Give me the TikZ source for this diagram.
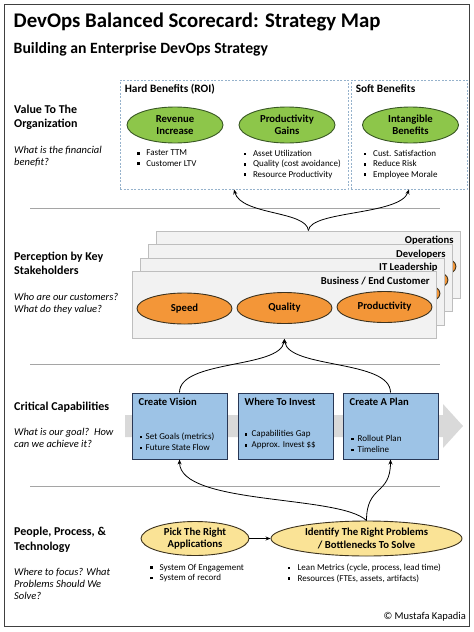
\documentclass[tikz,border=0pt]{standalone}
\usepackage{fontspec}
\setmainfont{Carlito}
\usepackage{tikz}
\usetikzlibrary{shapes.geometric,arrows.meta,positioning}

\definecolor{benefitgreen}{RGB}{141,198,74}
\definecolor{greenline}{RGB}{56,87,35}
\definecolor{valueorange}{RGB}{243,150,56}
\definecolor{capblue}{RGB}{157,195,230}
\definecolor{capline}{RGB}{40,55,85}
\definecolor{tasksand}{RGB}{250,227,150}
\definecolor{ovalline}{RGB}{60,50,30}
\definecolor{cardgray}{RGB}{242,242,242}
\definecolor{cardline}{RGB}{190,190,190}
\definecolor{dashline}{RGB}{150,178,204}
\definecolor{flowgray}{RGB}{217,217,217}
\definecolor{rulegray}{RGB}{165,165,165}
\definecolor{framegray}{RGB}{64,64,64}

\newcommand{\fs}[2]{\fontsize{#1}{#2}\selectfont}
\newcommand{\itm}[1][9.5pt]{\makebox[#1][l]{\rule[1.3pt]{2.6pt}{2.6pt}}}

\begin{document}
\begin{tikzpicture}[x=1pt,y=-1pt,
  every node/.style={inner sep=0pt},
  heading/.style={anchor=north west,align=left,font=\bfseries\fs{12}{14.2}},
  question/.style={anchor=north west,align=left,font=\itshape\fs{10.5}{12}},
  bullets/.style={anchor=north west,align=left,font=\fs{9}{10.4}},
  oval/.style={ellipse,line width=0.9pt,align=center,font=\bfseries\fs{10.7}{12.4}},
  benefit/.style={oval,draw=greenline,fill=benefitgreen,minimum width=96pt,minimum height=36pt},
  value/.style={oval,draw=ovalline,fill=valueorange,minimum width=95pt,minimum height=31pt},
  task/.style={oval,draw=ovalline,fill=tasksand,minimum height=34pt},
  group/.style={draw=dashline,line width=0.8pt,dash pattern=on 2pt off 1.5pt},
  card/.style={draw=cardline,fill=cardgray,line width=0.8pt,anchor=north west,minimum width=304pt,minimum height=67pt},
  cardlabel/.style={anchor=base east,font=\bfseries\fs{10.6}{12}},
  capbox/.style={draw=capline,fill=capblue,line width=1pt,minimum width=95pt,minimum height=66pt},
  boxtitle/.style={anchor=base west,font=\bfseries\fs{10.6}{12}},
  boxlist/.style={anchor=north west,align=left,font=\fs{9}{11}},
  link/.style={-{Stealth[length=5pt,width=4pt]},line width=0.8pt},
  sep/.style={draw=rulegray,line width=0.8pt}]
  \useasboundingbox (0,0) rectangle (474,632);
  \draw[framegray,line width=1.3pt] (4.5,4.5) rectangle (469.5,626.5);

  \node[anchor=base west,font=\bfseries\fs{20.8}{24}] (title) at (13.5,27.3) {DevOps Balanced Scorecard: Strategy Map};
  \node[anchor=base west,font=\bfseries\fs{15.7}{18}] (subtitle) at (13.5,53.3) {Building an Enterprise DevOps Strategy};

  % row labels
  \node[heading] (value) at (14,104.7) {Value To The\\Organization};
  \node[question] (value-q) at (14,145.7) {What is the financial\\benefit?};
  \node[heading] (percep) at (14,251.4) {Perception by Key\\Stakeholders};
  \node[question] (percep-q) at (14,293.4) {Who are our customers?\\What do they value?};
  \node[heading,anchor=base west] (capab) at (14,410) {Critical Capabilities};
  \node[question] (capab-q) at (14,428.4) {What is our goal?\ \ How\\can we achieve it?};
  \node[heading] (people) at (14,527.3) {People, Process, \&\\Technology};
  \node[question] (people-q) at (14,568.5) {Where to focus? What\\Problems Should We\\Solve?};

  \draw[sep] (30,208) -- (440,208);
  \draw[sep] (30,364) -- (440,364);
  \draw[sep] (30,486) -- (440,486);

  % value to the organization
  \node[group,minimum width=228pt,minimum height=109pt] (hard) at (234,134.5) {};
  \node[group,minimum width=116pt,minimum height=109pt] (soft) at (409,134.5) {};
  \node[anchor=base west,font=\bfseries\fs{11.3}{12}] (hard-l) at ([shift={(5pt,-12.7pt)}]hard.north west) {Hard Benefits (ROI)};
  \node[anchor=base west,font=\bfseries\fs{11.3}{12}] (soft-l) at ([shift={(5pt,-12.7pt)}]soft.north west) {Soft Benefits};
  \node[benefit] (revenue) at (175,125) {Revenue\\Increase};
  \node[benefit] (gains) at (287,125) {Productivity\\Gains};
  \node[benefit] (intang) at (410.5,125) {Intangible\\Benefits};
  \node[bullets] (revenue-b) at (136.7,150) {\itm Faster TTM\\\itm Customer LTV};
  \node[bullets] (gains-b) at (243.3,150) {\itm Asset Utilization\\\itm Quality (cost avoidance)\\\itm Resource Productivity};
  \node[bullets] (intang-b) at (363.5,150) {\itm Cust. Satisfaction\\\itm Reduce Risk\\\itm Employee Morale};

  % stakeholders, back to front
  \foreach \i/\nm/\lab in {3/ops/Operations,2/dev/Developers,1/itl/IT Leadership,0/biz/{Business / End Customer}}{
    \node[card] (\nm) at (132+8*\i,271-13.5*\i) {};
    \node[cardlabel] (\nm-l) at ([shift={(-7pt,-13pt)}]\nm.north east) {\lab};
    \node[value] (\nm-s) at ([shift={(52.5pt,-37.5pt)}]\nm.north west) {\ifnum\i=0 Speed\fi};
    \node[value] (\nm-q) at ([shift={(152.5pt,-37pt)}]\nm.north west) {\ifnum\i=0 Quality\fi};
    \node[value] (\nm-p) at ([shift={(252.5pt,-36pt)}]\nm.north west) {\ifnum\i=0 Productivity\fi};
  }
  \draw[link] (ops.north) .. controls +(-2,-20) and +(7,26) .. (hard.south);
  \draw[link] (ops.north) .. controls +(2,-20) and +(-9,26) .. (soft.south);

  % critical capabilities
  \fill[flowgray] (125,415) -- (443,415) -- (443,404) -- (463,426) -- (443,448) -- (443,437) -- (125,437) -- cycle;
  \node[capbox] (vision) at (179.5,426) {};
  \node[capbox] (invest) at (285.5,426) {};
  \node[capbox] (plan) at (390.5,426) {};
  \node[boxtitle] (vision-t) at ([shift={(7pt,-12.7pt)}]vision.north west) {Create Vision};
  \node[boxtitle] (invest-t) at ([shift={(7pt,-12.7pt)}]invest.north west) {Where To Invest};
  \node[boxtitle] (plan-t) at ([shift={(7pt,-12.7pt)}]plan.north west) {Create A Plan};
  \node[boxlist] (vision-b) at ([shift={(8pt,-40.5pt)}]vision.north west) {\itm[6pt]Set Goals (metrics)\\\itm[6pt]Future State Flow};
  \node[boxlist] (invest-b) at ([shift={(7pt,-38pt)}]invest.north west) {\itm[7pt]Capabilities Gap\\\itm[7pt]Approx. Invest \$\$};
  \node[boxlist] (plan-b) at ([shift={(8.5pt,-42.5pt)}]plan.north west) {\itm[6.5pt]Rollout Plan\\\itm[6.5pt]Timeline};
  \draw[link] (vision.north) .. controls +(0,-33) and +(-4,30) .. (biz.south);
  \draw[link] (plan.north) .. controls +(0,-33) and +(4,30) .. (biz.south);

  % people, process and technology
  \node[task,minimum width=108pt] (pick) at (195,538.5) {Pick The Right\\Applications};
  \node[task,minimum width=191pt,minimum height=35pt] (ident) at (366.5,538.5) {Identify The Right Problems\\/ Bottlenecks To Solve};
  \draw[link] (pick) -- (ident);
  \node[bullets] (pick-b) at (150,564) {\itm System Of Engagement\\\itm System of record};
  \node[bullets] (ident-b) at (287.5,564) {\itm[10pt]Lean Metrics (cycle, process, lead time)\\\itm[10pt]Resources (FTEs, assets, artifacts)};
  \draw[link] (ident.north) .. controls +(-27,-26) and +(0.5,46) .. (vision.south);
  \draw[link] (ident.north) .. controls +(0,-36) and +(0,36) .. (plan.south);

  \node[anchor=base east,font=\fs{10.5}{12}] (copy) at (466,619) {© Mustafa Kapadia};
\end{tikzpicture}
\end{document}
